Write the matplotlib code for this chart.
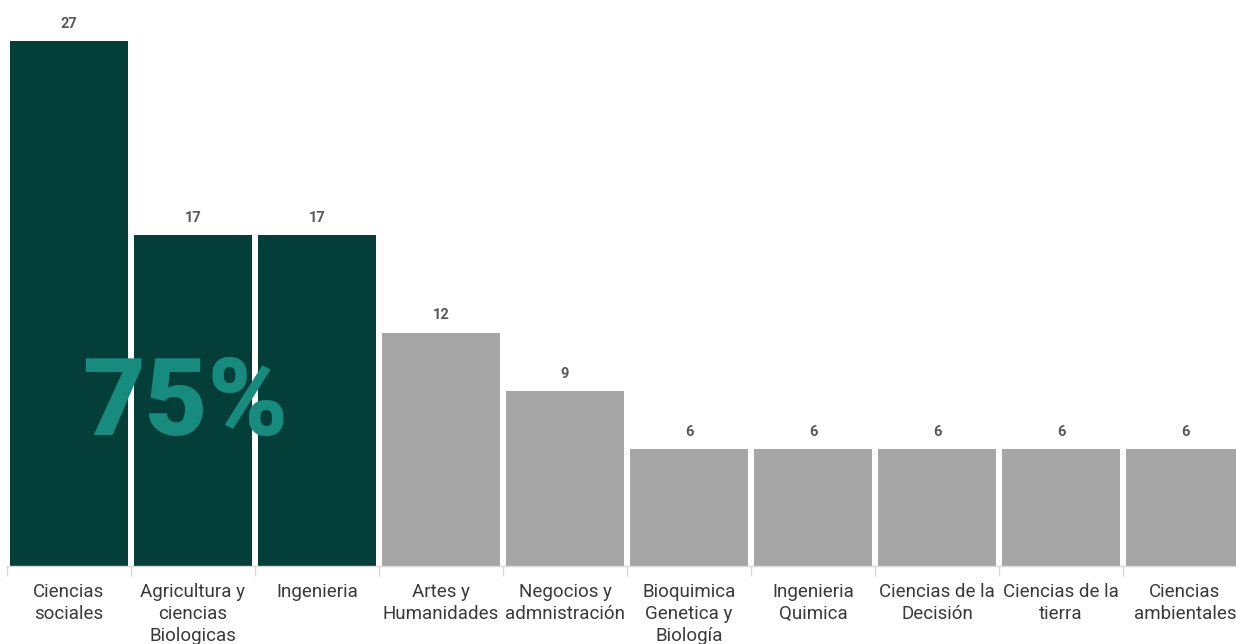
import matplotlib
matplotlib.use("Agg")
import matplotlib.pyplot as plt
import numpy as np

categories = ["Ciencias\nsociales", "Agricultura y\nciencias\nBiologicas", "Ingenieria",
              "Artes y\nHumanidades", "Negocios y\nadmnistración", "Bioquimica\nGenetica y\nBiología",
              "Ingenieria\nQuimica", "Ciencias de la\nDecisión", "Ciencias de la\ntierra",
              "Ciencias\nambientales"]
values = [27, 17, 17, 12, 9, 6, 6, 6, 6, 6]
highlight = [True, True, True, False, False, False, False, False, False, False]
highlight_text = "75%"

dark = "#033F38"
grey = "#A6A6A6"
teal = "#178B7D"

W, H = 1236, 644
fig = plt.figure(figsize=(W/100, H/100), dpi=100)
px_per_unit = 525/27
left_px, right_px = 7, 7 + 124*10
bottom_px, top_px = 566, 5
ax = fig.add_axes([left_px/W, (H-bottom_px)/H, (right_px-left_px)/W, (bottom_px-top_px)/H])
ax.set_xlim(-0.5, len(values)-0.5)
ax.set_ylim(0, (bottom_px-top_px)/px_per_unit)

x = np.arange(len(values))
colors = [dark if h else grey for h in highlight]
ax.bar(x, values, width=0.952, color=colors, zorder=2)

for xi, v in zip(x, values):
    ax.annotate(str(v), (xi, v), xytext=(0, 7.5), textcoords="offset points",
                ha="center", va="bottom", fontsize=10.5, fontweight="bold",
                color="#595959", family="Roboto")

ax.set_xticks(x)
ax.set_xticklabels(categories, fontsize=13.5, color="#3a3a3a", family="Roboto",
                   fontweight="normal", linespacing=1.3, va="top")
ax.tick_params(axis="x", length=0, pad=12)
ax.set_xticks(np.arange(len(values)+1)-0.5, minor=True)
ax.tick_params(axis="x", which="minor", length=7, color="#D9D9D9", width=1)
ax.set_yticks([])
for s in ["top", "right", "left"]:
    ax.spines[s].set_visible(False)
ax.spines["bottom"].set_color("#D9D9D9")
ax.spines["bottom"].set_linewidth(1)

fig.text(185/W, 1-405/H, highlight_text, ha="center", va="center", fontsize=78,
         fontweight="black", color=teal, family="Roboto", zorder=5)

fig.savefig("out.png", dpi=100)
